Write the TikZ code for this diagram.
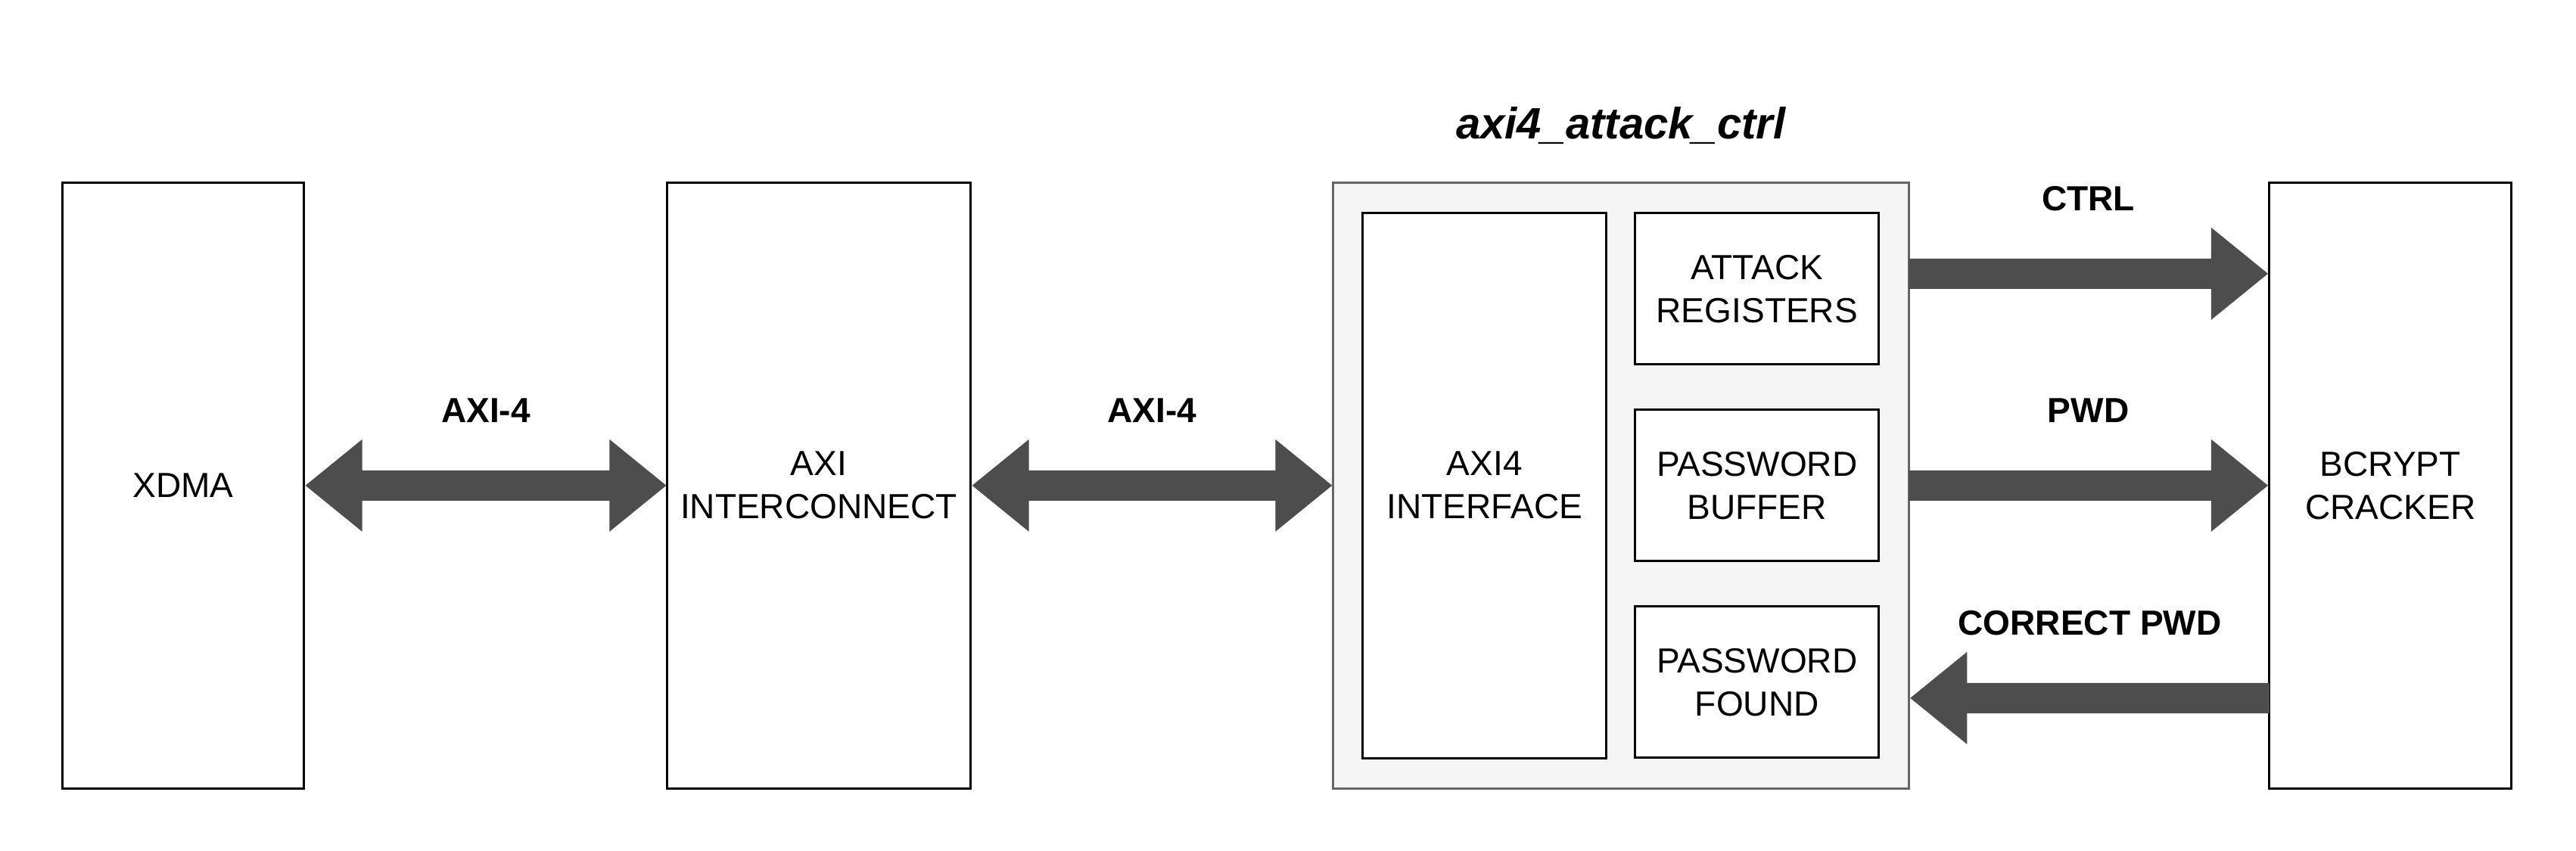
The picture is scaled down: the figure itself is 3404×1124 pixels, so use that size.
\documentclass[tikz,border=0pt]{standalone}
\usepackage{fontspec}
\setmainfont{Liberation Sans}
\usetikzlibrary{calc}
\definecolor{arrowgray}{HTML}{4D4D4D}
\definecolor{outergray}{HTML}{666666}
\definecolor{outerfill}{HTML}{F5F5F5}
% double-headed flat arrow between two coordinates (left to right)
\newcommand{\myDblArrow}[2]{%
  \fill[flexfill] (#1) -- ($(#1)+(75,61)$) -- ($(#1)+(75,20)$) -- ($(#2)+(-75,20)$) -- ($(#2)+(-75,61)$) -- (#2)
   -- ($(#2)+(-75,-61)$) -- ($(#2)+(-75,-20)$) -- ($(#1)+(75,-20)$) -- ($(#1)+(75,-61)$) -- cycle;}
% single flat arrow: #1 tail, #2 tip, #3 direction (1 = right, -1 = left)
\newcommand{\mySingleArrow}[3]{%
  \fill[flexfill] ($(#1)+(0,20)$) -- ($(#2)+({-75*(#3)},20)$) -- ($(#2)+({-75*(#3)},61)$) -- (#2)
   -- ($(#2)+({-75*(#3)},-61)$) -- ($(#2)+({-75*(#3)},-20)$) -- ($(#1)+(0,-20)$) -- cycle;}
\begin{document}
\begin{tikzpicture}[x=0.01cm,y=-0.01cm,
  every node/.style={inner sep=0pt,outer sep=0pt},
  box/.style={draw=black,line width=0.85pt,fill=white,align=center,
    font=\fontsize{13.1}{16.2}\selectfont},
  outerbox/.style={draw=outergray,line width=0.85pt,fill=outerfill},
  lbl/.style={font=\fontsize{13.1}{16.2}\selectfont\bfseries},
  ttl/.style={font=\fontsize{16.5}{19.8}\selectfont\bfseries\itshape},
  flexfill/.style={fill=arrowgray}]
\useasboundingbox (0,0) rectangle (3404,1124);

\node[box,minimum width=3.19cm,minimum height=8.00cm] (xdma) at (242,641.8) {XDMA};
\node[box,minimum width=4.01cm,minimum height=8.00cm] (axi) at (1082,641.8) {AXI\\INTERCONNECT};
\node[outerbox,minimum width=7.605cm,minimum height=8.00cm] (outer) at (2141.75,641.8) {};
\node[ttl,anchor=base] (title) at (2141.75,183) {axi4\_attack\_ctrl};
\node[box,minimum width=3.215cm,minimum height=7.20cm] (aif) at (1961.75,641.8) {AXI4\\INTERFACE};
\node[box,minimum width=3.215cm,minimum height=2.00cm] (areg) at (2321.75,381.8) {ATTACK\\REGISTERS};
\node[box,minimum width=3.215cm,minimum height=2.00cm] (pbuf) at (2321.75,641.8) {PASSWORD\\BUFFER};
\node[box,minimum width=3.215cm,minimum height=2.00cm] (pfnd) at (2321.75,901.8) {PASSWORD\\FOUND};
\node[box,minimum width=3.194cm,minimum height=8.00cm] (bcrypt) at (3158.7,641.8) {BCRYPT\\CRACKER};

% connectors
\coordinate (a1l) at ($(xdma.east)+(2,0)$);
\coordinate (a1r) at ($(axi.west)+(-1,0)$);
\myDblArrow{a1l}{a1r}
\node[lbl,anchor=base] (l1) at ($(a1l)!0.5!(a1r)+(0,-83)$) {AXI-4};

\coordinate (a2l) at ($(axi.east)+(2,0)$);
\coordinate (a2r) at ($(outer.west)+(-1,0)$);
\myDblArrow{a2l}{a2r}
\node[lbl,anchor=base] (l2) at ($(a2l)!0.5!(a2r)+(0,-83)$) {AXI-4};

\coordinate (c1t) at ($(outer.east)+(0,-280)$);
\coordinate (c1h) at ($(bcrypt.west)+(-2,-280)$);
\mySingleArrow{c1t}{c1h}{1}
\node[lbl,anchor=base] (l3) at ($(c1t)!0.5!(c1h)+(0,-83)$) {CTRL};

\coordinate (c2t) at (outer.east);
\coordinate (c2h) at ($(bcrypt.west)+(-2,0)$);
\mySingleArrow{c2t}{c2h}{1}
\node[lbl,anchor=base] (l4) at ($(c2t)!0.5!(c2h)+(0,-83)$) {PWD};

\coordinate (c3t) at ($(bcrypt.west)+(0,281)$);
\coordinate (c3h) at ($(outer.east)+(2,281)$);
\mySingleArrow{c3t}{c3h}{-1}
\node[lbl,anchor=base] (l5) at ($(c3t)!0.5!(c3h)+(0,-83)$) {CORRECT PWD};
\end{tikzpicture}
\end{document}
